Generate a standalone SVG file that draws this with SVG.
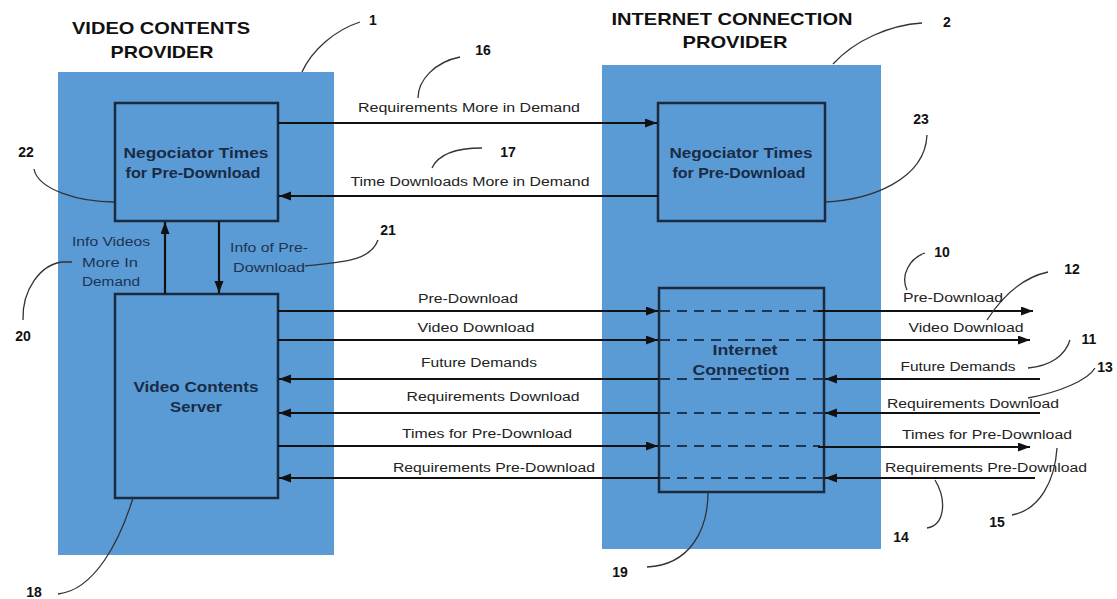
<svg xmlns="http://www.w3.org/2000/svg" width="1117" height="599" viewBox="0 0 1117 599">
<style>
.panel{fill:#5b9bd5;stroke:none}
.box{fill:#5b9bd5;stroke:#1b2a3c;stroke-width:2.5}
.arr{fill:none;stroke:#111;stroke-width:2.2}
.dash{fill:none;stroke:#1f3550;stroke-width:2;stroke-dasharray:10 7}
.lead{fill:none;stroke:#333;stroke-width:1.3}
.title{font-family:"Liberation Sans",Arial,sans-serif;font-weight:bold;font-size:17px;fill:#111;text-anchor:middle}
.node{font-family:"Liberation Sans",Arial,sans-serif;font-weight:bold;font-size:14px;fill:#1a2b45;text-anchor:middle}
.lbl{font-family:"Liberation Sans",Arial,sans-serif;font-size:12.5px;fill:#222;text-anchor:middle}
.sub{font-family:"Liberation Sans",Arial,sans-serif;font-size:12.5px;fill:#1d3350;text-anchor:middle}
.num{font-family:"Liberation Sans",Arial,sans-serif;font-weight:bold;font-size:14px;fill:#111;text-anchor:middle}
</style>
<defs>
<marker id="ah" markerUnits="userSpaceOnUse" markerWidth="13" markerHeight="10" refX="12" refY="4.5" orient="auto">
<path d="M0,0 L12,4.5 L0,9 z" fill="#111"/>
</marker>
</defs>
<rect width="1117" height="599" fill="#fff"/>

<g id="video-contents-provider">
<rect class="panel" x="58" y="72" width="276" height="483"/>
<text class="title" x="161" y="34" textLength="178" lengthAdjust="spacingAndGlyphs">VIDEO CONTENTS</text>
<text class="title" x="162" y="58" textLength="103" lengthAdjust="spacingAndGlyphs">PROVIDER</text>
</g>
<g id="internet-connection-provider">
<rect class="panel" x="602" y="65" width="279" height="484"/>
<text class="title" x="732" y="25" textLength="241" lengthAdjust="spacingAndGlyphs">INTERNET CONNECTION</text>
<text class="title" x="735" y="48" textLength="105" lengthAdjust="spacingAndGlyphs">PROVIDER</text>
</g>

<g id="negociator-left">
<rect class="box" x="115" y="103" width="163" height="118"/>
<text class="node" x="196" y="158" textLength="145" lengthAdjust="spacingAndGlyphs">Negociator Times</text>
<text class="node" x="193" y="178" textLength="135" lengthAdjust="spacingAndGlyphs">for Pre-Download</text>
</g>
<g id="negociator-right">
<rect class="box" x="658" y="103" width="167" height="118"/>
<text class="node" x="741" y="158" textLength="143" lengthAdjust="spacingAndGlyphs">Negociator Times</text>
<text class="node" x="739" y="178" textLength="133" lengthAdjust="spacingAndGlyphs">for Pre-Download</text>
</g>
<g id="video-contents-server">
<rect class="box" x="115" y="294" width="163" height="204"/>
<text class="node" x="196" y="392" textLength="125" lengthAdjust="spacingAndGlyphs">Video Contents</text>
<text class="node" x="196" y="412" textLength="52" lengthAdjust="spacingAndGlyphs">Server</text>
</g>
<g id="internet-connection">
<rect class="box" x="659" y="288" width="165" height="204"/>
</g>

<g id="connectors">
<line class="arr" x1="278" y1="123" x2="657" y2="123" marker-end="url(#ah)"/>
<line class="arr" x1="658" y1="196" x2="279" y2="196" marker-end="url(#ah)"/>
<line class="arr" x1="165" y1="294" x2="165" y2="222" marker-end="url(#ah)"/>
<line class="arr" x1="219" y1="221" x2="219" y2="293" marker-end="url(#ah)"/>

<line class="arr" x1="278" y1="311" x2="658" y2="311" marker-end="url(#ah)"/>
<line class="arr" x1="278" y1="340" x2="658" y2="340" marker-end="url(#ah)"/>
<line class="arr" x1="659" y1="379" x2="279" y2="379" marker-end="url(#ah)"/>
<line class="arr" x1="659" y1="413" x2="279" y2="413" marker-end="url(#ah)"/>
<line class="arr" x1="278" y1="446" x2="658" y2="446" marker-end="url(#ah)"/>
<line class="arr" x1="659" y1="478" x2="279" y2="478" marker-end="url(#ah)"/>

<line class="dash" x1="660" y1="311" x2="820" y2="311"/>
<line class="dash" x1="660" y1="340" x2="820" y2="340"/>
<line class="dash" x1="660" y1="379" x2="823" y2="379"/>
<line class="dash" x1="660" y1="413" x2="823" y2="413"/>
<line class="dash" x1="660" y1="446" x2="820" y2="446"/>
<line class="dash" x1="660" y1="478" x2="823" y2="478"/>

<line class="arr" x1="818" y1="311" x2="1033" y2="311" marker-end="url(#ah)"/>
<line class="arr" x1="818" y1="340" x2="1030" y2="340" marker-end="url(#ah)"/>
<line class="arr" x1="1040" y1="379" x2="825" y2="379" marker-end="url(#ah)"/>
<line class="arr" x1="1040" y1="413" x2="825" y2="413" marker-end="url(#ah)"/>
<line class="arr" x1="818" y1="447" x2="1030" y2="447" marker-end="url(#ah)"/>
<line class="arr" x1="1035" y1="478" x2="825" y2="478" marker-end="url(#ah)"/>

<path class="lead" d="M302,72 C312,50 335,30 360,22"/>
<path class="lead" d="M833,64 C855,40 890,25 922,23"/>
<path class="lead" d="M418,98 C418,80 435,62 460,57"/>
<path class="lead" d="M432,168 C438,155 455,148 482,148"/>
<path class="lead" d="M34,169 C38,190 80,202 114,202"/>
<path class="lead" d="M825,202 C870,200 925,180 927,135"/>
<path class="lead" d="M305,266 C340,262 370,262 378,240"/>
<path class="lead" d="M72,262 L62,262 C40,265 22,290 23,320"/>
<path class="lead" d="M907,290 C900,275 910,258 925,253"/>
<path class="lead" d="M987,320 C1000,300 1020,278 1048,272"/>
<path class="lead" d="M1028,368 C1050,366 1065,356 1070,340"/>
<path class="lead" d="M1028,398 C1060,392 1088,380 1095,368"/>
<path class="lead" d="M1057,448 C1055,480 1040,510 1012,515"/>
<path class="lead" d="M935,480 C947,500 945,525 927,528"/>
<path class="lead" d="M133,498 C120,540 95,590 58,594"/>
<path class="lead" d="M708,492 C708,530 690,565 647,567"/>
</g>

<g id="labels">
<text class="lbl" x="469" y="112" textLength="222" lengthAdjust="spacingAndGlyphs">Requirements More in Demand</text>
<text class="lbl" x="470" y="186" textLength="239" lengthAdjust="spacingAndGlyphs">Time Downloads More in Demand</text>
<text class="sub" x="111" y="246" textLength="78" lengthAdjust="spacingAndGlyphs">Info Videos</text>
<text class="sub" x="110" y="267" textLength="56" lengthAdjust="spacingAndGlyphs">More In</text>
<text class="sub" x="111" y="286" textLength="58" lengthAdjust="spacingAndGlyphs">Demand</text>
<text class="sub" x="269" y="252" textLength="78" lengthAdjust="spacingAndGlyphs">Info of Pre-</text>
<text class="sub" x="269" y="272" textLength="72" lengthAdjust="spacingAndGlyphs">Download</text>

<text class="lbl" x="468" y="303" textLength="100" lengthAdjust="spacingAndGlyphs">Pre-Download</text>
<text class="lbl" x="476" y="332" textLength="117" lengthAdjust="spacingAndGlyphs">Video Download</text>
<text class="lbl" x="479" y="367" textLength="116" lengthAdjust="spacingAndGlyphs">Future Demands</text>
<text class="lbl" x="493" y="401" textLength="173" lengthAdjust="spacingAndGlyphs">Requirements Download</text>
<text class="lbl" x="487" y="438" textLength="170" lengthAdjust="spacingAndGlyphs">Times for Pre-Download</text>
<text class="lbl" x="494" y="472" textLength="202" lengthAdjust="spacingAndGlyphs">Requirements Pre-Download</text>

<text class="lbl" x="953" y="302" textLength="100" lengthAdjust="spacingAndGlyphs">Pre-Download</text>
<text class="lbl" x="966" y="332" textLength="115" lengthAdjust="spacingAndGlyphs">Video Download</text>
<text class="lbl" x="958" y="371" textLength="115" lengthAdjust="spacingAndGlyphs">Future Demands</text>
<text class="lbl" x="973" y="408" textLength="172" lengthAdjust="spacingAndGlyphs">Requirements Download</text>
<text class="lbl" x="987" y="439" textLength="170" lengthAdjust="spacingAndGlyphs">Times for Pre-Download</text>
<text class="lbl" x="986" y="472" textLength="202" lengthAdjust="spacingAndGlyphs">Requirements Pre-Download</text>

<text class="node" x="745" y="355" textLength="65" lengthAdjust="spacingAndGlyphs">Internet</text>
<text class="node" x="741" y="375" textLength="97" lengthAdjust="spacingAndGlyphs">Connection</text>
</g>

<g id="reference-numbers">
<text class="num" x="373" y="25">1</text>
<text class="num" x="947" y="27">2</text>
<text class="num" x="483" y="55">16</text>
<text class="num" x="508" y="157">17</text>
<text class="num" x="26" y="157">22</text>
<text class="num" x="921" y="124">23</text>
<text class="num" x="388" y="235">21</text>
<text class="num" x="23" y="341">20</text>
<text class="num" x="942" y="257">10</text>
<text class="num" x="1072" y="274">12</text>
<text class="num" x="1089" y="344">11</text>
<text class="num" x="1105" y="372">13</text>
<text class="num" x="901" y="542">14</text>
<text class="num" x="997" y="527">15</text>
<text class="num" x="34" y="597">18</text>
<text class="num" x="620" y="577">19</text>
</g>
</svg>
